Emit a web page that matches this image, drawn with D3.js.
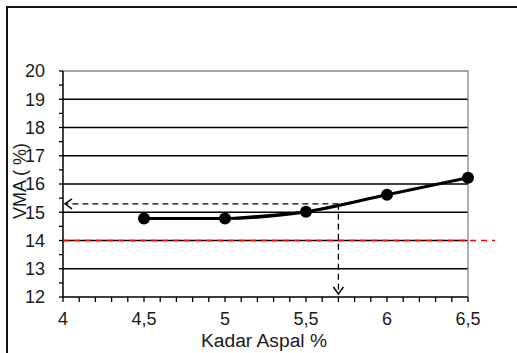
<!DOCTYPE html>
<html>
<head>
<meta charset="utf-8">
<script src="https://cdn.jsdelivr.net/npm/d3@7"></script>
<style>
  body { margin: 0; background: #fff; }
  svg { display: block; font-family: "Liberation Sans", Arial, sans-serif; }
</style>
</head>
<body>
<svg id="chart" width="517" height="353"></svg>
<script>
// data
const kadarAspal = [4.5, 5, 5.5, 6, 6.5];
const vma = [14.78, 14.78, 15.02, 15.62, 16.22];
const xTicks = [4, 4.5, 5, 5.5, 6, 6.5];
const xTickLabels = ["4", "4,5", "5", "5,5", "6", "6,5"];
const yTicks = [12, 13, 14, 15, 16, 17, 18, 19, 20];
const vmaMin = 14;          // red spec line
const optimum = [5.7, 15.3]; // dashed read-off

const svg = d3.select("#chart");
const x = d3.scaleLinear().domain([4, 6.5]).range([63, 468]);
const y = d3.scaleLinear().domain([12, 20]).range([297, 71]);
const txt = "#1a1a1a";

// outer frame
svg.append("rect")
  .attr("x", 7).attr("y", 7).attr("width", 530).attr("height", 360)
  .attr("fill", "none").attr("stroke", "#111").attr("stroke-width", 2);

// gridlines
svg.append("g").selectAll("line")
  .data(yTicks.filter(d => d > 12 && d < 20))
  .enter().append("line")
  .attr("x1", x(4)).attr("x2", x(6.5))
  .attr("y1", d => y(d)).attr("y2", d => y(d))
  .attr("stroke", "#000").attr("stroke-width", 1.3);

// plot border top/right
svg.append("path")
  .attr("d", `M${x(4)},${y(20)}H${x(6.5)}V${y(12)}`)
  .attr("fill", "none").attr("stroke", "#888").attr("stroke-width", 1.3);

// y axis
const yAxis = svg.append("g").attr("transform", `translate(${x(4)},0)`);
yAxis.append("line").attr("y1", y(12)).attr("y2", y(20)).attr("stroke", "#000").attr("stroke-width", 1.5);
yAxis.selectAll("line.mt").data(d3.range(12, 20.01, 0.5)).enter().append("line")
  .attr("class", "mt").attr("x1", -4).attr("x2", 0)
  .attr("y1", d => y(d)).attr("y2", d => y(d))
  .attr("stroke", "#000").attr("stroke-width", 1.3);
yAxis.selectAll("text").data(yTicks).enter().append("text")
  .attr("x", -18).attr("y", d => y(d)).attr("dy", "0.36em")
  .attr("text-anchor", "end").attr("font-size", 18).attr("fill", txt)
  .text(d => d);

// x axis
const xAxis = svg.append("g").attr("transform", `translate(0,${y(12)})`);
xAxis.append("line").attr("x1", x(4)).attr("x2", x(6.5)).attr("stroke", "#000").attr("stroke-width", 1.5);
xAxis.selectAll("line.mt").data(d3.range(40, 66).map(d => d / 10)).enter().append("line")
  .attr("class", "mt").attr("y1", 0).attr("y2", 5)
  .attr("x1", d => x(d)).attr("x2", d => x(d))
  .attr("stroke", "#000").attr("stroke-width", 1.3);
xAxis.selectAll("text").data(xTicks).enter().append("text")
  .attr("x", d => x(d)).attr("y", 28)
  .attr("text-anchor", "middle").attr("font-size", 18).attr("fill", txt)
  .text((d, i) => xTickLabels[i]);

// axis titles
svg.append("text")
  .attr("x", 264).attr("y", 347).attr("text-anchor", "middle")
  .attr("font-size", 18).attr("fill", txt)
  .attr("textLength", 126).attr("lengthAdjust", "spacingAndGlyphs")
  .text("Kadar Aspal %");
svg.append("text")
  .attr("transform", "translate(26,181) rotate(-90)")
  .attr("text-anchor", "middle").attr("font-size", 18).attr("fill", txt)
  .text("VMA ( %)");

// red minimum line
svg.append("line")
  .attr("x1", x(4)).attr("x2", 495)
  .attr("y1", y(vmaMin)).attr("y2", y(vmaMin))
  .attr("stroke", "#f00").attr("stroke-width", 1.3).attr("stroke-dasharray", "6,5");

// dashed read-off lines with arrows
const ox = x(optimum[0]), oy = y(optimum[1]);
svg.append("line").attr("x1", ox).attr("x2", x(4) + 2).attr("y1", oy).attr("y2", oy)
  .attr("stroke", "#000").attr("stroke-width", 1.3).attr("stroke-dasharray", "6,4");
svg.append("line").attr("x1", ox).attr("x2", ox).attr("y1", oy).attr("y2", y(12) - 2)
  .attr("stroke", "#000").attr("stroke-width", 1.3).attr("stroke-dasharray", "6,4");
svg.append("path")
  .attr("d", `M${x(4) + 9},${oy - 5}L${x(4) + 2},${oy}L${x(4) + 9},${oy + 5}`)
  .attr("fill", "none").attr("stroke", "#000").attr("stroke-width", 1.5);
svg.append("path")
  .attr("d", `M${ox - 5},${y(12) - 10}L${ox},${y(12) - 3}L${ox + 5},${y(12) - 10}`)
  .attr("fill", "none").attr("stroke", "#000").attr("stroke-width", 1.5);

// data: thin polyline + thick smooth curve + markers
const pts = kadarAspal.map((k, i) => [k, vma[i]]);
svg.append("path").datum(pts)
  .attr("d", d3.line().x(d => x(d[0])).y(d => y(d[1])))
  .attr("fill", "none").attr("stroke", "#000").attr("stroke-width", 1.5);
svg.append("path").datum(pts)
  .attr("d", d3.line().x(d => x(d[0])).y(d => y(d[1])).curve(d3.curveMonotoneX))
  .attr("fill", "none").attr("stroke", "#000").attr("stroke-width", 3);
svg.append("g").selectAll("circle").data(pts).enter().append("circle")
  .attr("cx", d => x(d[0])).attr("cy", d => y(d[1])).attr("r", 6)
  .attr("fill", "#000");
</script>
</body>
</html>
